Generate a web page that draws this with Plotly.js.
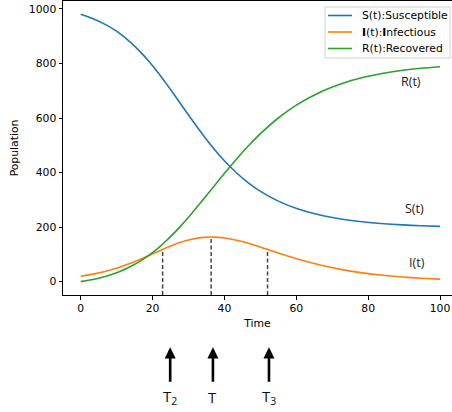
<!DOCTYPE html>
<html>
<head>
<meta charset="utf-8">
<script src="https://cdn.plot.ly/plotly-3.0.1.min.js"></script>
<style>html,body{margin:0;padding:0;background:#fff;}#chart{width:452px;height:412px;}</style>
</head>
<body>
<div id="chart"></div>
<script>
// Data
const time = [0, 4.09, 7.07, 9.42, 11.37, 13.06, 14.55, 17.12, 19.32, 21.71, 23.82, 25.75, 27.56, 30.90, 34.04, 37.10, 40.19, 43.40, 46.83, 50.62, 55.00, 60.34, 67.49, 72.35, 78.97, 83.49, 89.64, 94.74, 100];
const susceptible = [980, 960.6, 941.6, 922.9, 904.7, 886.7, 869.2, 835.1, 802.4, 763.2, 726.0, 690.6, 656.9, 594.4, 537.8, 486.7, 440.3, 398.4, 360.5, 326.2, 295.2, 267.1, 241.7, 229.9, 218.7, 213.3, 208.0, 204.9, 202.6];
const infectious = [20, 29.4, 38.4, 47.1, 55.3, 63.3, 70.8, 84.9, 97.6, 111.8, 124.0, 134.4, 143.1, 155.6, 162.2, 163.3, 159.7, 151.6, 139.5, 123.8, 104.8, 82.9, 58.3, 45.1, 31.3, 24.2, 17.0, 12.6, 9.3];
const recovered = [0, 10, 20, 30, 40, 50, 60, 80, 100, 125, 150, 175, 200, 250, 300, 350, 400, 450, 500, 550, 600, 650, 700, 725, 750, 762.5, 775, 782.5, 788.1];

const seriesNames = ["S(t):Susceptible", "<b>I</b>(t):<b>I</b>nfectious", "R(t):Recovered"];
const curveLabels = ["S(t)", "I(t)", "R(t)"];
const curveLabelX = [92.8, 93.5, 91.8];
const curveLabelY = [269, 70, 734];

// dashed markers on I(t)
const markTimes = [22.8, 36.3, 52.0];
const markValues = [118, 163.5, 118];

// arrows below the axis
const arrowTimes = [24.9, 36.8, 52.4];
const arrowLabels = ["T<sub>2</sub>", "T", "T<sub>3</sub>"];

const xTicks = [0, 20, 40, 60, 80, 100];
const yTicks = [0, 200, 400, 600, 800, 1000];

const xRange = [-4.93, 103.34];
const yRange = [-49, 1029];

const colors = ["#1f77b4", "#ff7f0e", "#2ca02c"];
const font = {family: "DejaVu Sans", size: 10.8, color: "#000"};

const series = [susceptible, infectious, recovered];
const traces = series.map((vals, i) => ({
  x: time, y: vals, name: seriesNames[i], mode: "lines", showlegend: false,
  line: {color: colors[i], width: 1.6, shape: "spline", smoothing: 0.8}
}));
markTimes.forEach((t, i) => {
  traces.push({x: [t, t], y: [yRange[0], markValues[i]], mode: "lines", showlegend: false, hoverinfo: "skip",
    line: {color: "#444", width: 1.5, dash: "4px,2.5px"}});
});

// plot-area geometry in pixels (for the hand-built legend)
const W = 452, H = 412, mL = 63, mR = 0, mT = 1, mB = 117;
const px = p => (p - mL) / (W - mL - mR);
const py = p => (H - mB - p) / (H - mT - mB);

const shapes = [];
const annotations = [];

// legend box
const lg = {left: 325, right: 450, top: 7, bottom: 58, rows: [15.5, 32, 48.5], lineX0: 328, lineX1: 352, textX: 360};
shapes.push({type: "rect", xref: "paper", yref: "paper", x0: px(lg.left), x1: px(lg.right), y0: py(lg.bottom), y1: py(lg.top),
  line: {color: "#d0d0d0", width: 1}, fillcolor: "rgba(255,255,255,0.8)", layer: "above"});
seriesNames.forEach((nm, i) => {
  shapes.push({type: "line", xref: "paper", yref: "paper", x0: px(lg.lineX0), x1: px(lg.lineX1), y0: py(lg.rows[i]), y1: py(lg.rows[i]),
    line: {color: colors[i], width: 1.6}, layer: "above"});
  annotations.push({x: px(lg.textX), y: py(lg.rows[i]), xref: "paper", yref: "paper", text: nm, showarrow: false,
    font: font, xanchor: "left", yanchor: "middle"});
});

curveLabels.forEach((txt, i) => {
  annotations.push({x: curveLabelX[i], y: curveLabelY[i], xref: "x", yref: "y", text: txt, showarrow: false,
    font: {family: "Open Sans", size: 12.5, color: "#222"}, xanchor: "center", yanchor: "middle"});
});
arrowTimes.forEach((t, i) => {
  annotations.push({x: t, y: -0.178, xref: "x", yref: "paper", text: "", showarrow: true, ax: 0, ay: 36,
    arrowhead: 2, arrowsize: 0.85, arrowwidth: 2.6, arrowcolor: "#000", standoff: 0, startstandoff: 0});
  annotations.push({x: t, y: -0.348, xref: "x", yref: "paper", text: arrowLabels[i], showarrow: false,
    font: {family: "Open Sans", size: 15, color: "#111"}, xanchor: "center", yanchor: "middle"});
});

const layout = {
  width: W, height: H,
  margin: {l: mL, r: mR, t: mT, b: mB},
  paper_bgcolor: "#fff", plot_bgcolor: "#fff",
  font: font,
  showlegend: false,
  xaxis: {range: xRange, tickvals: xTicks, showgrid: false, zeroline: false, showline: true, mirror: true,
    linecolor: "#000", linewidth: 1, ticks: "outside", ticklen: 3.5, tickwidth: 1, tickcolor: "#000",
    title: {text: "Time", font: font, standoff: 4}, tickfont: font},
  yaxis: {range: yRange, tickvals: yTicks, showgrid: false, zeroline: false, showline: true,
    linecolor: "#000", linewidth: 1, ticks: "outside", ticklen: 3.5, tickwidth: 1, tickcolor: "#000",
    title: {text: "Population", font: font, standoff: 8}, tickfont: font},
  shapes: shapes,
  annotations: annotations
};

Plotly.newPlot("chart", traces, layout, {displayModeBar: false, staticPlot: true});
</script>
</body>
</html>
